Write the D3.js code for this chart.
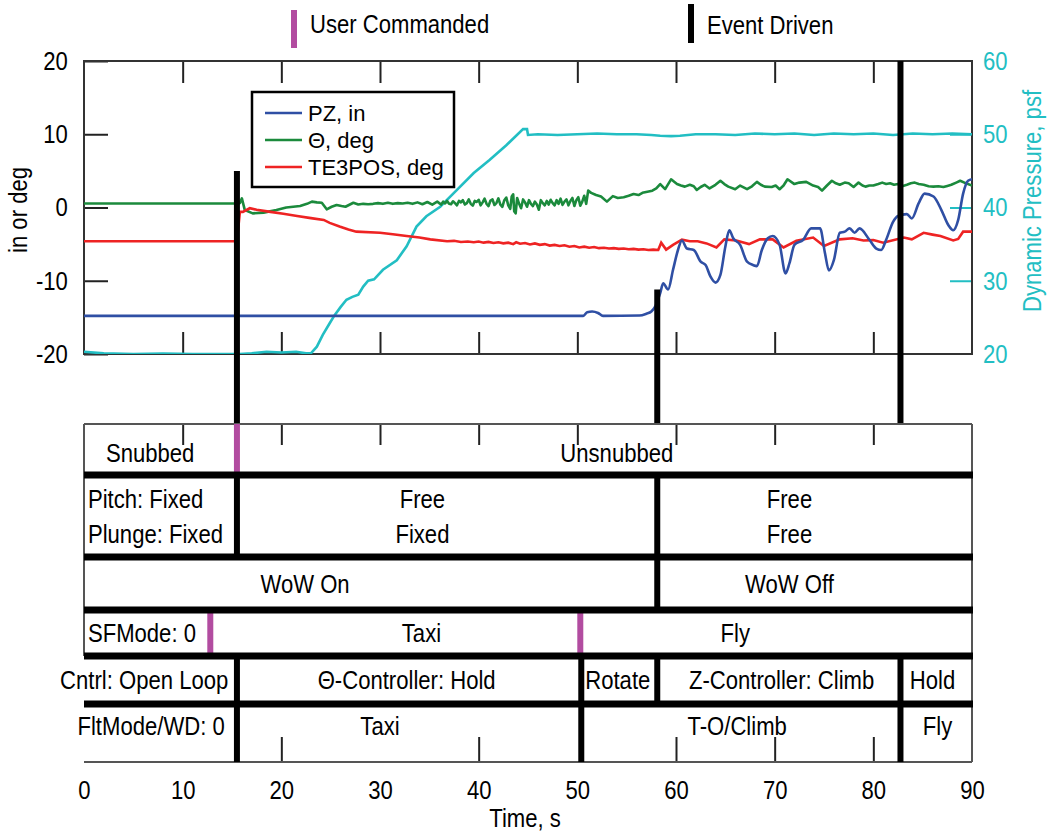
<!DOCTYPE html>
<html>
<head>
<meta charset="utf-8">
<script src="https://cdn.jsdelivr.net/npm/d3@7"></script>
<style>
  body { margin: 0; background: #fff; }
  text { font-family: "Liberation Sans", Arial, sans-serif; }
</style>
</head>
<body>
<svg width="1048" height="832"></svg>
<script>
// ---- data ----
const xTicks = [0, 10, 20, 30, 40, 50, 60, 70, 80, 90];
const leftTicks = [-20, -10, 0, 10, 20];
const rightTicks = [20, 30, 40, 50, 60];

// [time s, in or deg]
const pz = [[0,-14.8],[47.5,-14.8],[50.6,-14.8],[51.0,-14.3],[51.5,-14.2],[52.1,-14.4],[52.6,-14.8],
  [56.3,-14.75],[57.0,-14.5],[57.5,-14.2],[57.9,-13.5],[58.4,-11.7],[58.7,-10.35],[59.2,-11.2],
  [59.7,-8.5],[60.2,-5.8],[60.6,-4.5],[61.1,-5.6],[61.8,-5.8],[62.5,-7.4],[63.0,-7.85],[63.5,-9.45],
  [64.0,-10.25],[64.5,-9.2],[65.0,-5.35],[65.4,-3.1],[65.8,-4.2],[66.5,-5.1],[67.2,-7.4],[67.8,-7.85],
  [68.2,-8.0],[68.7,-5.8],[69.3,-4.2],[69.8,-3.9],[70.5,-5.1],[71.1,-9.0],[71.5,-7.6],[72.0,-5.1],
  [72.9,-4.4],[73.7,-2.85],[74.6,-2.85],[75.1,-6.25],[75.5,-8.6],[76.0,-7.2],[76.6,-3.45],[77.1,-3.3],
  [77.6,-2.85],[78.1,-3.45],[78.6,-2.85],[79.6,-4.4],[80.3,-5.6],[80.8,-5.8],[81.3,-4.4],[82.0,-1.95],
  [82.5,-1.15],[83.4,-0.9],[83.9,-1.5],[84.6,0.6],[85.2,1.9],[86.1,1.5],[86.9,-0.35],[87.6,-2.4],
  [88.1,-3.1],[88.6,-1.7],[89.1,1.9],[89.6,3.65],[90.0,3.85]];

const theta = [[0,0.55],[15.5,0.55],[15.8,0.6],[16.0,1.25],[16.3,-0.35],[17.1,-0.8],[18.2,-0.7],
  [19.5,-0.35],[20.5,0.0],[21.9,0.2],[22.6,0.5],[23.1,0.8],[23.6,0.7],[24.1,0.65],[24.6,-0.25],
  [25.1,0.1],[25.6,0.35],[26.1,0.2],[26.5,0.1],[27.3,0.65],[27.8,0.4],[28.3,0.5],[28.8,0.45],
  [29.3,0.5],[29.8,0.6],[30.3,0.5],[30.8,0.65],[31.3,0.5],[31.8,0.6],[32.3,0.55],[32.8,0.65],
  [33.3,0.5],[33.8,0.7],[34.3,0.45],[34.8,0.75],[35.3,0.4],[35.8,0.8],
  [36.0,0.6],[36.2,0.4],[36.4,0.8],[36.6,0.55],[36.8,0.9],[37.0,0.5],[37.2,0.45],[37.4,0.85],
  [37.6,0.6],[37.8,0.3],[38.0,0.9],[38.2,0.7],[38.4,1.0],[38.6,0.4],[38.8,0.6],[39.0,1.1],
  [39.2,0.5],[39.4,0.25],[39.6,0.9],[39.8,0.75],[40.0,1.05],[40.2,0.3],[40.4,0.7],[40.6,1.2],
  [40.8,0.5],[41.0,0.2],[41.2,0.95],[41.4,1.1],[41.6,0.35],[41.8,0.6],[42.0,1.25],[42.2,0.4],
  [42.4,0.1],[42.6,1.0],[42.8,1.35],[43.0,0.3],[43.2,-0.2],[43.35,1.5],[43.5,1.8],[43.6,-0.5],
  [43.75,-0.8],[43.9,1.3],[44.1,0.5],[44.3,-0.1],[44.5,1.1],[44.7,0.7],[44.9,0.1],[45.1,1.0],
  [45.3,0.5],[45.5,0.2],[45.7,0.8],[45.9,0.4],[46.1,-0.3],[46.3,1.0],[46.5,0.6],[46.7,0.3],
  [46.9,0.9],[47.1,0.4],[47.3,1.05],[47.5,0.6],[47.7,0.3],[47.9,1.0],[48.1,0.5],[48.3,1.2],
  [48.5,0.35],[48.7,0.8],[48.9,1.1],[49.1,0.3],[49.3,0.9],[49.5,1.3],[49.7,0.2],[49.9,1.0],
  [50.1,1.4],[50.3,0.25],[50.5,0.8],[50.7,1.6],[50.9,0.5],[51.1,2.3],[51.4,2.0],[51.9,1.7],
  [52.4,1.5],[53.0,0.8],[53.6,1.55],[54.1,1.3],[54.7,1.4],[55.2,1.6],[55.7,1.85],[56.2,1.7],
  [56.6,2.0],[57.1,2.15],[57.6,2.3],[58.0,2.6],[58.4,3.2],[58.9,2.5],[59.5,3.85],[60.1,3.2],
  [60.5,3.0],[60.9,2.85],[61.4,3.1],[61.8,2.9],[62.1,2.4],[62.5,2.8],[62.9,3.1],[63.4,2.6],
  [64.0,3.1],[64.5,3.65],[64.9,3.2],[65.3,2.85],[66.0,2.5],[66.5,3.0],[67.2,2.5],[67.7,2.9],
  [68.2,3.5],[68.6,3.1],[69.0,2.85],[69.7,2.8],[70.1,3.0],[70.5,2.5],[70.9,3.0],[71.3,3.85],
  [72.0,3.2],[72.5,3.4],[73.2,3.5],[73.9,3.0],[74.4,2.8],[74.8,2.3],[75.3,3.0],[75.8,3.65],
  [76.2,3.3],[76.6,3.1],[77.1,3.4],[77.5,3.3],[78.0,2.8],[78.5,3.4],[78.9,3.0],[79.2,2.85],
  [79.6,3.0],[80.0,3.0],[80.5,3.2],[80.9,3.4],[81.3,3.2],[81.7,3.3],[82.1,3.1],[82.5,3.2],
  [83.0,2.95],[83.4,3.1],[83.8,3.3],[84.2,3.4],[84.6,3.2],[85.1,3.1],[85.6,2.9],[86.1,2.85],
  [86.6,2.9],[87.1,2.8],[87.5,2.95],[87.9,3.1],[88.4,3.4],[88.8,3.65],[89.4,3.3],[90.0,3.0]];

const te3pos = [[0,-4.6],[15.5,-4.6],[15.8,-0.6],[16.1,-0.6],[16.8,-0.1],[17.5,-0.3],[18.9,-0.6],
  [20.2,-0.85],[21.6,-1.15],[23.0,-1.45],[24.3,-1.7],[24.9,-2.1],[25.9,-2.6],[26.8,-3.0],
  [27.6,-3.3],[30.0,-3.45],[31.3,-3.65],[32.7,-3.9],[34.0,-4.1],[35.1,-4.35],[36.8,-4.6],
  [37.5,-4.55],[38.2,-4.7],[38.9,-4.65],[39.5,-4.75],[40.0,-4.65],[40.5,-4.8],[41.0,-4.7],
  [41.5,-4.85],[42.0,-4.75],[42.5,-4.9],[43.0,-4.8],[43.5,-5.0],[43.8,-4.75],[44.2,-4.95],
  [44.7,-4.85],[45.2,-5.05],[45.7,-4.9],[46.2,-5.1],[46.7,-5.0],[47.2,-5.2],[47.7,-5.1],
  [48.2,-5.25],[48.7,-5.15],[49.2,-5.35],[49.7,-5.25],[50.2,-5.45],[50.7,-5.35],[51.2,-5.5],
  [51.7,-5.4],[52.2,-5.55],[52.7,-5.5],[53.2,-5.6],[53.7,-5.55],[54.2,-5.65],[54.7,-5.6],
  [55.2,-5.7],[55.7,-5.65],[56.2,-5.75],[56.7,-5.7],[57.2,-5.8],[57.7,-5.75],[58.2,-5.8],
  [58.5,-4.8],[59.0,-5.75],[59.7,-5.1],[60.6,-4.4],[61.4,-4.6],[62.2,-4.6],[63.1,-4.9],
  [64.1,-5.45],[64.9,-4.35],[66.1,-4.5],[67.4,-5.0],[68.5,-4.35],[69.8,-4.35],[70.9,-5.45],
  [72.2,-4.55],[73.9,-4.1],[75.0,-5.25],[76.6,-4.35],[77.9,-4.2],[79.0,-4.5],[80.0,-4.45],
  [81.0,-4.8],[83.1,-4.1],[83.9,-4.35],[85.1,-3.45],[86.0,-3.7],[86.8,-3.9],[88.1,-4.5],
  [88.6,-4.3],[89.1,-3.3],[90.0,-3.3]];

// [time s, psf]
const dynPressure = [[0,20.3],[2,20.1],[5,20.0],[8,20.05],[11,20.0],[14,20.0],[15.8,20.0],[17,20.1],
  [18.5,20.3],[20,20.2],[21.5,20.3],[22.5,20.1],[23.0,20.1],[23.6,21.0],[24.2,22.6],[24.9,24.2],
  [25.4,25.3],[26.0,26.4],[26.6,27.4],[27.2,27.8],[27.8,28.1],[28.3,29.2],[28.8,30.0],[29.4,30.2],
  [30.3,31.5],[31.7,32.8],[32.7,34.7],[33.7,37.4],[34.7,38.8],[36.1,40.1],[37.8,42.4],[39.5,44.7],
  [41.1,46.5],[42.8,48.5],[44.5,50.7],[44.9,50.7],[45.0,49.9],[46,50.0],[48,49.9],[50,50.0],
  [52,50.1],[54,50.0],[56,50.0],[57.5,49.9],[58.4,49.8],[59.5,49.75],[60.4,49.8],[62,50.0],
  [64,50.0],[66,49.9],[68,50.1],[70,50.0],[72,50.1],[74,49.9],[76,50.1],[78,50.0],[80,50.1],
  [82,49.9],[84,50.1],[86,50.0],[88,50.1],[90,50.0]];

// event markers in the upper plot: time and top end (in or deg)
const eventMarkers = [[15.5, 5.0], [58.1, -11.2], [82.75, 20]];

// state table: one row each, labels anchored at a time, dividers at transition times
const rowLabels = [
  [{ lines: ["Snubbed"], t: 6.7 }, { lines: ["Unsnubbed"], t: 54.0 }],
  [{ lines: ["Pitch: Fixed", "Plunge: Fixed"], t: 0.4, left: true },
   { lines: ["Free", "Fixed"], t: 34.3 }, { lines: ["Free", "Free"], t: 71.5 }],
  [{ lines: ["WoW On"], t: 22.4 }, { lines: ["WoW Off"], t: 71.5 }],
  [{ lines: ["SFMode: 0"], t: 0.4, left: true }, { lines: ["Taxi"], t: 34.2 }, { lines: ["Fly"], t: 66.0 }],
  [{ lines: ["Cntrl: Open Loop"], t: 6.1 }, { lines: ["\u0398-Controller: Hold"], t: 32.7 },
   { lines: ["Rotate"], t: 54.1 }, { lines: ["Z-Controller: Climb"], t: 70.7 }, { lines: ["Hold"], t: 86.0 }],
  [{ lines: ["FltMode/WD: 0"], t: 6.8 }, { lines: ["Taxi"], t: 30.0 },
   { lines: ["T-O/Climb"], t: 66.2 }, { lines: ["Fly"], t: 86.5 }]
];
const rowDividers = [
  [[15.5, "user"]],
  [[15.5, "event"], [58.1, "event"]],
  [[58.1, "event"]],
  [[12.8, "user"], [50.3, "user"]],
  [[15.5, "event"], [50.4, "event"], [58.1, "event"], [82.75, "event"]],
  [[15.5, "event"], [50.4, "event"], [82.75, "event"]]
];

// ---- layout ----
const svg = d3.select("svg");
const left = 84, right = 972, plotTop = 61, plotBottom = 354;
const rowEdges = [424, 475, 557, 610, 656, 704, 762];
const colors = { pz: "#2f4fa4", theta: "#1b8a3c", te: "#ee2323", q: "#22bec3", user: "#b24ca0" };
const squeeze = 0.85; // condensed look, no narrow face installed

const x = d3.scaleLinear().domain([0, 90]).range([left, right]);
const yL = d3.scaleLinear().domain([-20, 20]).range([plotBottom, plotTop]);
const yR = d3.scaleLinear().domain([20, 60]).range([plotBottom, plotTop]);

function narrow(g, str, px, py, anchor, rot) {
  return g.append("text")
    .attr("transform", `translate(${px},${py})${rot ? " rotate(-90)" : ""} scale(${squeeze},1)`)
    .attr("text-anchor", anchor || "start").attr("font-size", 26).text(str);
}

function styleAxis(g, color) {
  g.select(".domain").remove();
  g.selectAll(".tick line").attr("stroke", color || "#222").attr("stroke-width", 2);
  g.selectAll("text").attr("font-size", 26).attr("font-family", "Liberation Sans, Arial, sans-serif")
    .attr("transform", `scale(${squeeze},1)`).attr("fill", color || "#000");
}

// top legend
const keyG = svg.append("g");
keyG.append("rect").attr("x", 291).attr("y", 10).attr("width", 6).attr("height", 38).attr("fill", colors.user);
narrow(keyG, "User Commanded", 310, 33);
keyG.append("rect").attr("x", 688).attr("y", 4).attr("width", 6).attr("height", 39).attr("fill", "#000");
narrow(keyG, "Event Driven", 707, 34);

// upper plot axes
svg.append("g").attr("transform", `translate(${left},0)`)
  .call(d3.axisLeft(yL).tickValues(leftTicks).tickSize(-24).tickPadding(19).tickFormat(d => String(d)))
  .call(g => styleAxis(g));
svg.append("g").attr("transform", `translate(${right},0)`)
  .call(d3.axisRight(yR).tickValues(rightTicks).tickSize(-22).tickPadding(13))
  .call(g => styleAxis(g, colors.q))
  .call(g => g.selectAll(".tick line").filter(d => d === 20 || d === 60).remove());
svg.append("g").attr("transform", `translate(0,${plotTop})`)
  .call(d3.axisTop(x).tickValues(xTicks.slice(1, -1)).tickSize(-22).tickFormat(""))
  .call(g => styleAxis(g));
svg.append("g").attr("transform", `translate(0,${plotBottom})`)
  .call(d3.axisBottom(x).tickValues(xTicks.slice(1, -1)).tickSize(-22).tickFormat(""))
  .call(g => styleAxis(g));

svg.append("rect").attr("x", left).attr("y", plotTop).attr("width", right - left)
  .attr("height", plotBottom - plotTop).attr("fill", "none").attr("stroke", "#333").attr("stroke-width", 2);

narrow(svg, "in or deg", 27, 210, "middle", true);
narrow(svg, "Dynamic Pressure, psf", 1041, 201, "middle", true).attr("fill", colors.q);

// series
svg.append("clipPath").attr("id", "clip").append("rect")
  .attr("x", left).attr("y", plotTop).attr("width", right - left).attr("height", plotBottom - plotTop);
const plot = svg.append("g").attr("clip-path", "url(#clip)");
const lineL = d3.line().x(d => x(d[0])).y(d => yL(d[1]));
const lineR = d3.line().x(d => x(d[0])).y(d => yR(d[1]));

plot.append("path").datum(dynPressure).attr("d", lineR)
  .attr("fill", "none").attr("stroke", colors.q).attr("stroke-width", 2.6);
plot.append("path").datum(theta).attr("d", lineL)
  .attr("fill", "none").attr("stroke", colors.theta).attr("stroke-width", 2.6).attr("stroke-linejoin", "round");
plot.append("path").datum(te3pos).attr("d", lineL)
  .attr("fill", "none").attr("stroke", colors.te).attr("stroke-width", 2.6);
plot.append("path").datum(pz).attr("d", lineL.curve(d3.curveMonotoneX))
  .attr("fill", "none").attr("stroke", colors.pz).attr("stroke-width", 2.6);

// event markers
svg.selectAll(".marker").data(eventMarkers).enter().append("line")
  .attr("x1", d => x(d[0])).attr("x2", d => x(d[0]))
  .attr("y1", d => yL(d[1])).attr("y2", rowEdges[0])
  .attr("stroke", "#000").attr("stroke-width", 6);

// legend box
const lg = svg.append("g");
lg.append("rect").attr("x", 252).attr("y", 92).attr("width", 202).attr("height", 95)
  .attr("fill", "#fff").attr("stroke", "#000").attr("stroke-width", 2.5);
[["PZ, in", colors.pz], ["\u0398, deg", colors.theta], ["TE3POS, deg", colors.te]].forEach((d, i) => {
  const yy = 113 + i * 27;
  lg.append("line").attr("x1", 265).attr("x2", 302).attr("y1", yy).attr("y2", yy)
    .attr("stroke", d[1]).attr("stroke-width", 2.6);
  lg.append("text").attr("x", 308).attr("y", yy + 8).attr("font-size", 22).text(d[0]);
});

// ---- state table ----
const tbl = svg.append("g");
tbl.append("g").attr("transform", `translate(0,${rowEdges[0]})`)
  .call(d3.axisTop(x).tickValues(xTicks.slice(1, -1)).tickSize(-21).tickFormat(""))
  .call(g => styleAxis(g));
tbl.append("g").attr("transform", `translate(0,${rowEdges[6]})`)
  .call(d3.axisBottom(x).tickValues([20, 40, 60, 70, 80]).tickSize(-25).tickFormat(""))
  .call(g => styleAxis(g));

// thin frame
tbl.append("line").attr("x1", left).attr("x2", right).attr("y1", rowEdges[0]).attr("y2", rowEdges[0])
  .attr("stroke", "#555").attr("stroke-width", 2);
tbl.append("line").attr("x1", left).attr("x2", right).attr("y1", rowEdges[6]).attr("y2", rowEdges[6])
  .attr("stroke", "#555").attr("stroke-width", 2);
tbl.append("line").attr("x1", left).attr("x2", left).attr("y1", rowEdges[0]).attr("y2", rowEdges[4])
  .attr("stroke", "#555").attr("stroke-width", 2);
tbl.append("line").attr("x1", right).attr("x2", right).attr("y1", rowEdges[0]).attr("y2", rowEdges[6])
  .attr("stroke", "#555").attr("stroke-width", 2);

// dividers
rowDividers.forEach((divs, r) => {
  tbl.selectAll(null).data(divs).enter().append("line")
    .attr("x1", d => x(d[0])).attr("x2", d => x(d[0]))
    .attr("y1", rowEdges[r]).attr("y2", rowEdges[r + 1])
    .attr("stroke", d => d[1] === "user" ? colors.user : "#000").attr("stroke-width", 6);
});

// thick row separators
tbl.selectAll(".sep").data(rowEdges.slice(1, 6)).enter().append("line")
  .attr("x1", left).attr("x2", right + 1).attr("y1", d => d).attr("y2", d => d)
  .attr("stroke", "#000").attr("stroke-width", 7);

// labels
rowLabels.forEach((labels, r) => {
  const mid = (rowEdges[r] + rowEdges[r + 1]) / 2 + (r === 0 ? 3 : 0) + (r === 5 ? -7 : 0);
  labels.forEach(l => {
    const n = l.lines.length;
    l.lines.forEach((s, k) => {
      narrow(tbl, s, x(l.t), mid + 9 + (k - (n - 1) / 2) * 35, l.left ? "start" : "middle");
    });
  });
});

// x axis labels
svg.append("g").attr("transform", `translate(0,${rowEdges[6]})`)
  .call(d3.axisBottom(x).tickValues(xTicks).tickSize(0).tickPadding(19))
  .call(g => styleAxis(g));
narrow(svg, "Time, s", 525, 827, "middle");
</script>
</body>
</html>
